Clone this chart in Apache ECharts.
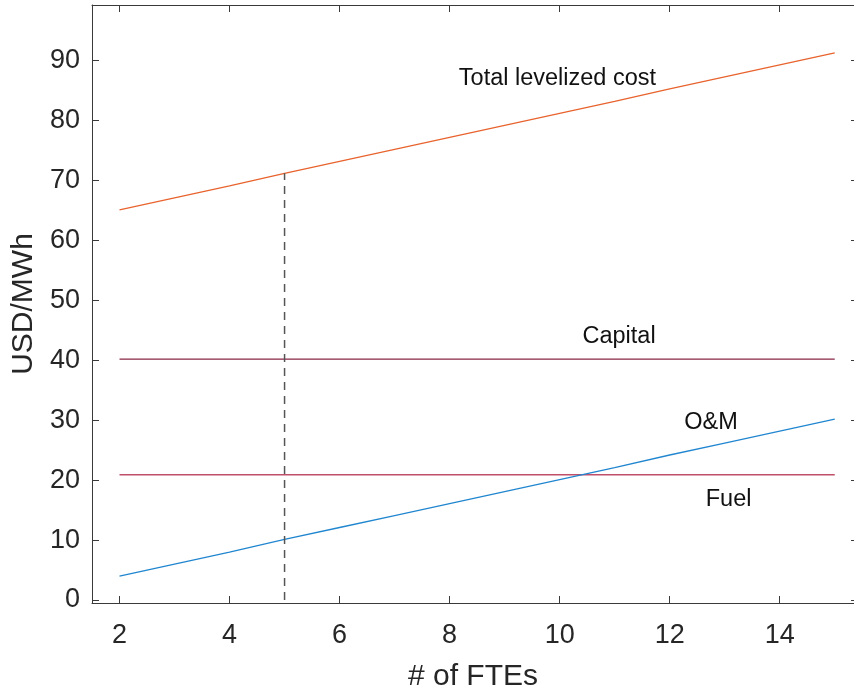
<!DOCTYPE html>
<html>
<head>
<meta charset="utf-8">
<script src="https://cdn.jsdelivr.net/npm/echarts@6/dist/echarts.min.js"></script>
<style>
html,body{margin:0;padding:0;background:#fff;}
#chart{width:854px;height:691px;}
</style>
</head>
<body>
<div id="chart"></div>
<script>
// ---- data ----
var fte = [2, 3, 4, 5, 6, 7, 8, 9, 10, 11, 12, 13, 14, 15];
var omCost = [4.0, 6.0, 8.0, 10.1, 12.1, 14.1, 16.1, 18.1, 20.1, 22.1, 24.2, 26.2, 28.2, 30.2];
var capitalCost = [40.2, 40.2, 40.2, 40.2, 40.2, 40.2, 40.2, 40.2, 40.2, 40.2, 40.2, 40.2, 40.2, 40.2];
var fuelCost = [20.9, 20.9, 20.9, 20.9, 20.9, 20.9, 20.9, 20.9, 20.9, 20.9, 20.9, 20.9, 20.9, 20.9];
var totalCost = [65.1, 67.1, 69.1, 71.2, 73.2, 75.2, 77.2, 79.2, 81.2, 83.2, 85.3, 87.3, 89.3, 91.3];
var markerFte = 5;
var markerRange = [0, 71.2];
var xTicks = [2, 4, 6, 8, 10, 12, 14];
var yTicks = [0, 10, 20, 30, 40, 50, 60, 70, 80, 90];
var annotations = [
  [9.96, 87.0, 'Total levelized cost'],
  [11.08, 44.0, 'Capital'],
  [12.75, 29.7, 'O&M'],
  [13.07, 16.8, 'Fuel']
];

function pairs(xs, ys) { return xs.map(function (x, i) { return [x, ys[i]]; }); }

var FONT = '"Liberation Sans", Arial, Helvetica, sans-serif';
var AX = '#3a3a3a';
var TXT = '#262626';

var chart = echarts.init(document.getElementById('chart'), null, {renderer: 'canvas'});
chart.setOption({
  animation: false,
  backgroundColor: '#fff',
  grid: {left: 92, right: 0, top: 5, bottom: 88, containLabel: false, outerBoundsMode: 'none'},
  xAxis: [{
    type: 'value', min: 1.5, max: 15.35, position: 'bottom',
    name: '# of FTEs', nameLocation: 'middle', nameGap: 59,
    nameTextStyle: {fontSize: 30, color: TXT, fontFamily: FONT},
    axisLine: {show: true, onZero: false, lineStyle: {color: AX, width: 1}},
    axisTick: {show: true, inside: true, length: 7, lineStyle: {color: AX}, customValues: xTicks},
    axisLabel: {fontSize: 27, color: TXT, fontFamily: FONT, margin: 19, customValues: xTicks},
    splitLine: {show: false}
  }, {
    type: 'value', min: 1.5, max: 15.35, position: 'top',
    axisLine: {show: true, onZero: false, lineStyle: {color: AX, width: 1}},
    axisTick: {show: true, inside: true, length: 7, lineStyle: {color: AX}, customValues: xTicks},
    axisLabel: {show: false},
    splitLine: {show: false}
  }],
  yAxis: [{
    type: 'value', min: -0.5, max: 99.3, position: 'left',
    name: 'USD/MWh', nameLocation: 'middle', nameGap: 52,
    nameTextStyle: {fontSize: 30, color: TXT, fontFamily: FONT},
    axisLine: {show: true, onZero: false, lineStyle: {color: AX, width: 1}},
    axisTick: {show: true, inside: true, length: 7, lineStyle: {color: AX}, customValues: yTicks},
    axisLabel: {fontSize: 27, color: TXT, fontFamily: FONT, margin: 12, customValues: yTicks},
    splitLine: {show: false}
  }, {
    type: 'value', min: -0.5, max: 99.3, position: 'right',
    axisLine: {show: false, onZero: false},
    axisTick: {show: true, inside: true, length: 3, lineStyle: {color: AX}, customValues: yTicks},
    axisLabel: {show: false},
    splitLine: {show: false}
  }],
  series: [
    {type: 'line', name: 'Capital', data: pairs(fte, capitalCost), symbol: 'none',
     lineStyle: {color: '#8A2646', width: 1.3}, z: 2},
    {type: 'line', name: 'Fuel', data: pairs(fte, fuelCost), symbol: 'none',
     lineStyle: {color: '#C0506A', width: 1.6}, z: 2},
    {type: 'line', name: 'O&M', data: pairs(fte, omCost), symbol: 'none',
     lineStyle: {color: '#2186D0', width: 1.3}, z: 3},
    {type: 'line', name: 'Total levelized cost', data: pairs(fte, totalCost), symbol: 'none',
     lineStyle: {color: '#E8632D', width: 1.3}, z: 3},
    {type: 'line', name: 'marker', data: [[markerFte, markerRange[0]], [markerFte, markerRange[1]]], symbol: 'none',
     lineStyle: {color: '#555', width: 1.5, type: [8, 6]}, z: 4},
    {type: 'scatter', name: 'labels', xAxisIndex: 1, yAxisIndex: 1, data: annotations, symbolSize: 0, silent: true,
     itemStyle: {opacity: 1},
     label: {show: true, position: 'inside', formatter: function (p) { return p.data[2]; },
             fontSize: 23.5, color: '#111', textBorderWidth: 0, opacity: 1, fontFamily: FONT}, z: 5}
  ]
});
</script>
</body>
</html>
